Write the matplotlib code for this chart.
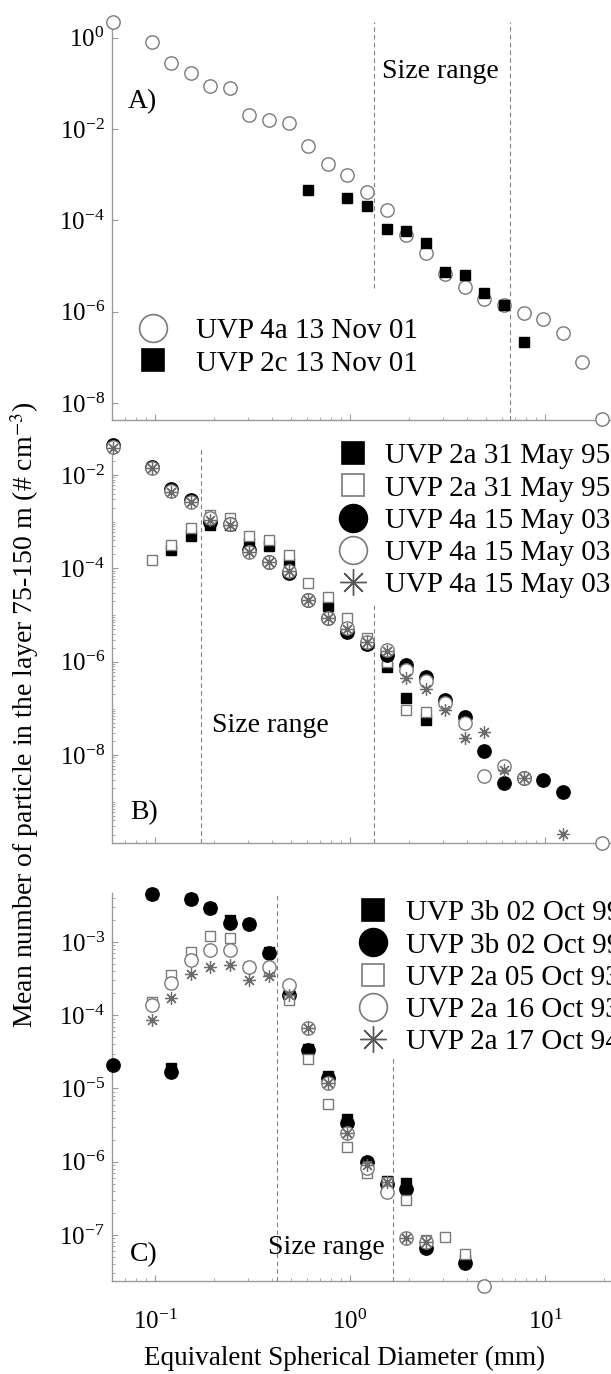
import numpy as np
import matplotlib
matplotlib.use("Agg")
import matplotlib.pyplot as plt
from matplotlib.lines import Line2D
from matplotlib.ticker import LogLocator, NullLocator, FixedLocator, LogFormatterSciNotation, NullFormatter

plt.rcParams['font.family'] = ['Liberation Serif', 'DejaVu Serif']
plt.rcParams['mathtext.fontset'] = 'stix'

nan = np.nan
# size-class centres (mm)
bins = [0.0607, 0.0764, 0.0962, 0.121, 0.153, 0.192, 0.243, 0.305, 0.385, 0.485,
        0.611, 0.770, 0.970, 1.22, 1.54, 1.94, 2.44, 3.08, 3.88, 4.89,
        6.16, 7.76, 9.78, 12.3, 15.5, 19.5]

# ---- Panel A
a_labels = ["UVP 4a 13 Nov 01", "UVP 2c 13 Nov 01"]
a_uvp4a = [2.2, nan, 0.82, 0.284, 0.172, 0.0896, 0.0785, 0.0205, 0.016, 0.0139,
           0.0042, 0.00172, 0.00097, 4.13e-4, 1.67e-4, 4.7e-5, 1.9e-5, 6.6e-6, 3.4e-6, 1.95e-6,
           1.38e-6, 9.6e-7, 6.9e-7, 3.5e-7, 7.9e-8, 4.6e-9]
a_uvp2c = [nan, nan, nan, nan, nan, nan, nan, nan, nan, nan,
           4.7e-4, nan, 3.1e-4, 2.04e-4, 6.6e-5, 5.8e-5, 3.2e-5, 7.5e-6, 6.3e-6, 2.6e-6,
           1.38e-6, 2.2e-7, nan, nan, nan, nan]
a_size_range = [1.33, 6.6]

# ---- Panel B
b_labels = ["UVP 2a 31 May 95", "UVP 2a 31 May 95", "UVP 4a 15 May 03",
            "UVP 4a 15 May 03", "UVP 4a 15 May 03"]
b_fsq = [nan, nan, nan, 2.5e-4, 4.9e-4, 8.7e-4, 8.5e-4, 3.5e-4, 3.0e-4, 1.32e-4,
         nan, 1.6e-5, 5.0e-6, 2.4e-6, 7.9e-7, 1.66e-7, 5.6e-8, nan, nan, nan,
         nan, nan, nan, nan, nan, nan]
b_osq = [nan, nan, 1.5e-4, 3.2e-4, 7.2e-4, 1.39e-3, 1.22e-3, 4.9e-4, 4.1e-4, 1.94e-4,
         4.8e-5, 2.4e-5, 8.5e-6, 3.2e-6, 1.0e-6, 9.3e-8, 8.6e-8, nan, nan, nan,
         nan, nan, nan, nan, nan, nan]
b_fci = [0.043, nan, 0.0145, 5.0e-3, 2.9e-3, 1.0e-3, 8.8e-4, 2.5e-4, 1.4e-4, 8.1e-5,
         2.1e-5, 8.5e-6, 4.4e-6, 2.4e-6, 1.4e-6, 8.5e-7, 4.8e-7, 1.5e-7, 6.6e-8, 1.23e-8,
         2.5e-9, 3.3e-9, 2.9e-9, 1.6e-9, nan, nan]
b_oci = [0.039, nan, 0.0139, 4.5e-3, 2.7e-3, 1.18e-3, 8.8e-4, 2.3e-4, 1.39e-4, 8.9e-5,
         2.1e-5, 8.5e-6, 5.2e-6, 2.7e-6, 1.78e-6, 6.7e-7, 3.8e-7, 1.3e-7, 4.8e-8, 3.6e-9,
         5.9e-9, 3.3e-9, nan, nan, nan, 1.3e-10]
b_star = [0.037, nan, 0.0139, 4.4e-3, 2.7e-3, 1.1e-3, 8.3e-4, 2.3e-4, 1.39e-4, 8.9e-5,
          2.1e-5, 8.5e-6, 5.0e-6, 2.7e-6, 1.7e-6, 4.5e-7, 2.6e-7, 9.3e-8, 2.3e-8, 3.2e-8,
          4.8e-9, 3.3e-9, nan, 2.1e-10, nan, nan]
b_size_range = [0.172, 1.33]

# ---- Panel C
c_labels = ["UVP 3b 02 Oct 99", "UVP 3b 02 Oct 99", "UVP 2a 05 Oct 93",
            "UVP 2a 16 Oct 93", "UVP 2a 17 Oct 94"]
c_fsq = [nan, nan, 4.6e-3, 1.9e-5, 3.9e-3, 2.9e-3, 2.0e-3, 1.76e-3, 7.3e-4, 1.95e-4,
         3.5e-5, 1.5e-5, 3.8e-6, 9.0e-7, 5.4e-7, 5.1e-7, 7.0e-8, nan, 4.5e-8, nan,
         nan, nan, nan, nan, nan, nan]
c_fci = [2.1e-5, nan, 4.6e-3, 1.66e-5, 3.9e-3, 2.9e-3, 1.8e-3, 1.76e-3, 7.1e-4, 1.9e-4,
         3.4e-5, 1.4e-5, 3.4e-6, 9.8e-7, 5.0e-7, 4.3e-7, 6.6e-8, nan, 4.1e-8, nan,
         nan, nan, nan, nan, nan, nan]
c_osq = [nan, nan, 1.54e-4, 3.5e-4, 7.4e-4, 1.2e-3, 1.12e-3, 4.6e-4, 4.2e-4, 1.62e-4,
         2.5e-5, 6.2e-6, 1.6e-6, 6.9e-7, 5.2e-7, 3.0e-7, 8.6e-8, 9.5e-8, 5.4e-8, nan,
         nan, nan, nan, nan, nan, nan]
c_oci = [nan, nan, 1.38e-4, 2.8e-4, 5.7e-4, 7.8e-4, 7.8e-4, 4.5e-4, 4.6e-4, 2.6e-4,
         6.6e-5, 1.17e-5, 2.5e-6, 8.2e-7, 3.9e-7, 9.1e-8, 8.0e-8, nan, nan, 2.0e-8,
         nan, nan, nan, nan, nan, nan]
c_star = [nan, nan, 8.7e-5, 1.7e-4, 3.7e-4, 4.6e-4, 4.9e-4, 3.0e-4, 3.4e-4, 1.9e-4,
          6.6e-5, 1.17e-5, 2.5e-6, 9.0e-7, 5.3e-7, 9.1e-8, 8.0e-8, nan, nan, nan,
          nan, nan, nan, nan, nan, nan]
c_size_range = [0.42, 1.67]

# ---------------------------------------------------------------- styling
W, H = 611, 1374
GREY = '#7a7a7a'
SPINE = '#9a9a9a'
XL, XR = 111.7, 642.0          # axes left/right in px (right edge is cropped)
XLIM = (10 ** -1.222, 10 ** 1.497)

fig = plt.figure(figsize=(W / 100, H / 100), dpi=100)


def make_axes(top, bottom, ylim):
    ax = fig.add_axes([XL / W, 1 - bottom / H, (XR - XL) / W, (bottom - top) / H])
    ax.set_xscale('log')
    ax.set_yscale('log')
    ax.set_xlim(*XLIM)
    ax.set_ylim(*ylim)
    for s in ['top', 'right']:
        ax.spines[s].set_visible(False)
    for s in ['left', 'bottom']:
        ax.spines[s].set_color(SPINE)
        ax.spines[s].set_linewidth(1.0)
    ax.tick_params(which='both', direction='in', colors=SPINE, labelcolor='black',
                   labelsize=18)
    ax.tick_params(which='major', length=4, width=0.8)
    ax.tick_params(which='minor', length=2.5, width=0.6)
    ax.xaxis.set_major_locator(LogLocator(base=10))
    ax.xaxis.set_minor_locator(LogLocator(base=10, subs=np.arange(2, 10)))
    ax.xaxis.set_minor_formatter(NullFormatter())
    ax.yaxis.set_minor_formatter(NullFormatter())
    ax.tick_params(axis='y', pad=5)
    return ax


def px2ax(ax_top, ax_bottom, X, Y):
    return ((X - XL) / (XR - XL), (ax_bottom - Y) / (ax_bottom - ax_top))


STY = {
    'osq': dict(marker='s', ms=7.6, mfc='white', mec=GREY, mew=1.0, ls='none'),
    'fsq': dict(marker='s', ms=7.6, mfc='black', mec='black', mew=1.0, ls='none'),
    'oci': dict(marker='o', ms=9.6, mfc='white', mec=GREY, mew=1.0, ls='none'),
    'fci': dict(marker='o', ms=9.6, mfc='black', mec='black', mew=1.0, ls='none'),
    'star': dict(marker=(8, 2, 0), ms=9.0, color='#6a6a6a', mew=0.9, ls='none'),
}
LEG = {
    'osq': dict(marker='s', ms=16.5, mfc='white', mec=GREY, mew=1.2, ls='none'),
    'fsq': dict(marker='s', ms=16.5, mfc='black', mec='black', mew=1.2, ls='none'),
    'oci': dict(marker='o', ms=20, mfc='white', mec=GREY, mew=1.2, ls='none'),
    'fci': dict(marker='o', ms=20, mfc='black', mec='black', mew=1.2, ls='none'),
    'star': dict(marker=(8, 2, 0), ms=19, color='#5a5a5a', mew=1.0, ls='none'),
}

x = np.array(bins)


def plot_series(ax, ys, key):
    ax.plot(x, np.array(ys), clip_on=False, zorder=3, **STY[key])


def size_lines(ax, xs, tops, bottom):
    for xv, tv in zip(xs, tops):
        ax.plot([xv, xv], [bottom, tv], color='#808080', lw=0.8, ls=(0, (4, 3)),
                zorder=1, clip_on=False)


def legend(ax, keys, labels, top_px, x0_px, htp, ax_top, ax_bottom):
    handles = [Line2D([], [], **LEG[k]) for k in keys]
    ax_x, ax_y = px2ax(ax_top, ax_bottom, x0_px, top_px)
    leg = ax.legend(handles, labels, loc='upper left', bbox_to_anchor=(ax_x, ax_y),
                    frameon=False, fontsize=21, borderpad=0, borderaxespad=0,
                    handlelength=1.0, handletextpad=htp, labelspacing=0.2,
                    numpoints=1)
    leg.set_zorder(5)
    return leg


# ---------------------------------------------------------------- Panel A
A_TOP, A_BOT = 24.0, 420.0
axA = make_axes(A_TOP, A_BOT, (10 ** -8.37, 10 ** 0.30))
axA.yaxis.set_major_locator(LogLocator(base=100))
axA.yaxis.set_minor_locator(NullLocator())
axA.yaxis.set_major_formatter(LogFormatterSciNotation(base=10))
axA.tick_params(axis='x', labelbottom=False)
size_lines(axA, a_size_range, [10 ** 0.34, 10 ** 0.34], 10 ** -8.37)
axA.lines[0].set_ydata([10 ** -5.47, 10 ** 0.34])
plot_series(axA, a_uvp4a, 'oci')
plot_series(axA, a_uvp2c, 'fsq')
axA.text(*px2ax(A_TOP, A_BOT, 382, 71), 'Size range', transform=axA.transAxes,
         fontsize=20, va='center', ha='left')
axA.text(*px2ax(A_TOP, A_BOT, 128, 102), 'A)', transform=axA.transAxes,
         fontsize=20, va='center', ha='left')
legend(axA, ['oci', 'fsq'], a_labels, 318, 138.1, 1.0, A_TOP, A_BOT)

# ---------------------------------------------------------------- Panel B
B_TOP, B_BOT = 447.0, 843.0
axB = make_axes(B_TOP, B_BOT, (10 ** -9.88, 10 ** -1.40))
axB.yaxis.set_major_locator(FixedLocator([1e-2, 1e-4, 1e-6, 1e-8]))
axB.yaxis.set_minor_locator(LogLocator(base=10, subs=np.arange(1, 10), numticks=30))
axB.yaxis.set_major_formatter(LogFormatterSciNotation(base=10))
axB.tick_params(axis='x', labelbottom=False)
size_lines(axB, b_size_range, [10 ** -1.40, 10 ** -4.74], 10 ** -9.88)
plot_series(axB, b_fsq, 'fsq')
plot_series(axB, b_osq, 'osq')
plot_series(axB, b_fci, 'fci')
plot_series(axB, b_oci, 'oci')
plot_series(axB, b_star, 'star')
axB.text(*px2ax(B_TOP, B_BOT, 212, 725), 'Size range', transform=axB.transAxes,
         fontsize=20, va='center', ha='left')
axB.text(*px2ax(B_TOP, B_BOT, 130, 813), 'B)', transform=axB.transAxes,
         fontsize=20, va='center', ha='left')
legend(axB, ['fsq', 'osq', 'fci', 'oci', 'star'], b_labels, 443, 338.1, 0.61, B_TOP, B_BOT)

# ---------------------------------------------------------------- Panel C
C_TOP, C_BOT = 893.0, 1281.0
axC = make_axes(C_TOP, C_BOT, (10 ** -7.63, 10 ** -2.33))
axC.yaxis.set_major_locator(LogLocator(base=10))
axC.yaxis.set_minor_locator(LogLocator(base=10, subs=np.arange(2, 10), numticks=30))
axC.yaxis.set_major_formatter(LogFormatterSciNotation(base=10))
axC.xaxis.set_major_formatter(LogFormatterSciNotation(base=10))
axC.tick_params(axis='x', pad=21)
size_lines(axC, c_size_range, [10 ** -2.33, 10 ** -4.57], 10 ** -7.63)
plot_series(axC, c_fsq, 'fsq')
plot_series(axC, c_fci, 'fci')
plot_series(axC, c_osq, 'osq')
plot_series(axC, c_oci, 'oci')
plot_series(axC, c_star, 'star')
axC.text(*px2ax(C_TOP, C_BOT, 268, 1248), 'Size range', transform=axC.transAxes,
         fontsize=20, va='center', ha='left')
axC.text(*px2ax(C_TOP, C_BOT, 130, 1255), 'C)', transform=axC.transAxes,
         fontsize=20, va='center', ha='left')
legend(axC, ['fsq', 'fci', 'osq', 'oci', 'star'], c_labels, 900, 358.1, 0.64, C_TOP, C_BOT)

# ---------------------------------------------------------------- labels
fig.text(345 / W, 1 - 1358 / H, 'Equivalent Spherical Diameter (mm)', fontsize=19.5,
         ha='center', va='center')
fig.text(25 / W, 1 - 715 / H, 'Mean number of particle in the layer 75-150 m (# cm$^{-3}$)',
         fontsize=20, ha='center', va='center', rotation=90)

fig.savefig('out.png', dpi=100)
